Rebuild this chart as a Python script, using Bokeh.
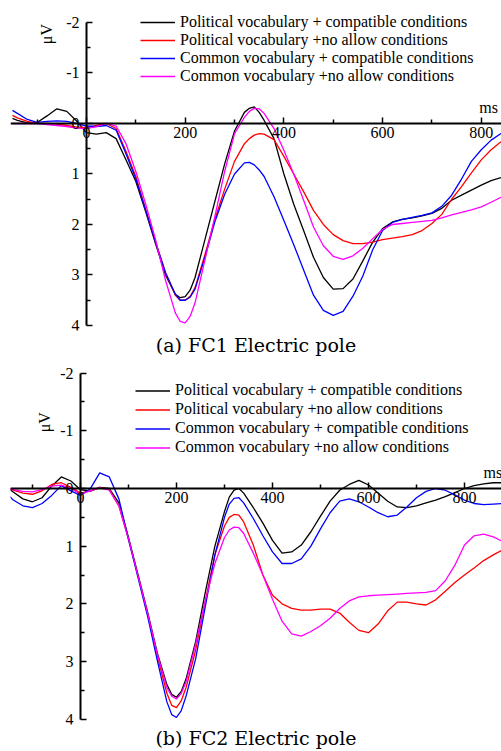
from bokeh.plotting import figure
from bokeh.models import Range1d, FixedTicker, Label, Legend, LegendItem, Title
from bokeh.layouts import column
from bokeh.embed import file_html
from bokeh.resources import INLINE

LABELS = ["Political vocabulary + compatible conditions",
          "Political vocabulary +no allow conditions",
          "Common vocabulary + compatible conditions",
          "Common vocabulary +no allow conditions"]
COLORS = ["#000000", "#ff0000", "#0000ff", "#ff00ff"]

x_major = [0, 200, 400, 600, 800]
x_minor = [-100, 100, 300, 500, 700]
y_major = [-2, -1, 0, 1, 2, 3, 4]
y_minor = [-1.5, -0.5, 0.5, 1.5, 2.5, 3.5]
y_labels = ["-2", "-1", "0", "1", "2", "3", "4"]

# ---------------- Panel (a) FC1 ----------------
time_a = [-150, -140, -120, -100, -80, -60, -40, -20, 0, 20, 40, 60, 80, 100, 120, 140, 160, 180,
          190, 200, 210, 220, 240, 260, 280, 300, 320, 330, 340, 350, 360, 380, 400, 420, 440,
          460, 480, 500, 520, 540, 560, 580, 600, 620, 640, 660, 680, 700, 720, 740, 760, 780,
          800, 820, 840]
a_pol_comp = [-0.10, -0.06, -0.01, -0.02, -0.15, -0.29, -0.24, -0.05, 0.18, 0.21, 0.18, 0.30, 0.72,
              1.15, 1.75, 2.38, 3.00, 3.38, 3.45, 3.43, 3.30, 3.05, 2.30, 1.55, 0.80, 0.15, -0.22,
              -0.30, -0.33, -0.22, -0.06, 0.30, 1.00, 1.60, 2.12, 2.65, 3.05, 3.28, 3.27, 3.08,
              2.72, 2.35, 2.08, 1.95, 1.90, 1.87, 1.83, 1.78, 1.68, 1.52, 1.42, 1.32, 1.22, 1.13,
              1.07]
a_pol_noal = [-0.16, -0.11, -0.04, 0.00, 0.00, 0.01, 0.04, 0.07, 0.08, 0.04, 0.00, 0.10, 0.55,
              1.05, 1.70, 2.35, 2.95, 3.40, 3.50, 3.50, 3.42, 3.25, 2.60, 1.90, 1.30, 0.75, 0.40,
              0.30, 0.23, 0.20, 0.21, 0.32, 0.65, 1.00, 1.35, 1.72, 2.00, 2.20, 2.32, 2.38, 2.38,
              2.35, 2.30, 2.27, 2.24, 2.20, 2.12, 1.98, 1.80, 1.50, 1.25, 0.98, 0.72, 0.52, 0.36]
a_com_comp = [-0.26, -0.20, -0.08, -0.02, -0.04, -0.05, -0.04, 0.00, 0.05, 0.06, 0.04, 0.13, 0.60,
              1.10, 1.72, 2.35, 2.95, 3.38, 3.50, 3.50, 3.44, 3.28, 2.65, 1.95, 1.40, 1.00, 0.78,
              0.77, 0.82, 0.92, 1.05, 1.45, 1.92, 2.40, 2.90, 3.40, 3.70, 3.80, 3.72, 3.42, 3.02,
              2.50, 2.12, 1.96, 1.90, 1.86, 1.82, 1.77, 1.64, 1.42, 1.10, 0.75, 0.52, 0.33, 0.20]
a_com_noal = [0.00, 0.00, 0.00, 0.00, 0.02, 0.04, 0.06, 0.09, 0.10, 0.06, 0.00, 0.05, 0.40,
              0.95, 1.60, 2.30, 3.10, 3.75, 3.92, 3.95, 3.82, 3.55, 2.70, 1.85, 0.95, 0.20, -0.12,
              -0.24, -0.30, -0.29, -0.20, 0.10, 0.53, 1.00, 1.52, 2.05, 2.42, 2.63, 2.69, 2.62,
              2.47, 2.28, 2.10, 2.00, 1.98, 1.96, 1.94, 1.92, 1.87, 1.81, 1.76, 1.71, 1.65, 1.56,
              1.46]

# ---------------- Panel (b) FC2 ----------------
time_b = [-150, -140, -120, -100, -80, -60, -40, -20, 0, 20, 40, 60, 80, 100, 120, 140, 160, 180,
          190, 200, 210, 220, 240, 260, 280, 300, 310, 320, 330, 340, 360, 380, 400, 420, 440,
          460, 480, 500, 520, 540, 560, 580, 600, 620, 640, 660, 680, 700, 720, 740, 760, 780,
          800, 820, 840, 860, 880]
b_pol_comp = [0.00, 0.06, 0.18, 0.23, 0.16, -0.04, -0.20, -0.13, 0.02, 0.05, -0.02, 0.00, 0.25,
              0.85, 1.50, 2.15, 2.85, 3.40, 3.57, 3.62, 3.52, 3.30, 2.65, 1.80, 1.00, 0.40, 0.15,
              0.03, 0.00, 0.08, 0.33, 0.60, 0.90, 1.12, 1.10, 0.98, 0.75, 0.48, 0.22, 0.03, -0.07,
              -0.14, -0.06, 0.08, 0.22, 0.32, 0.33, 0.30, 0.25, 0.20, 0.14, 0.07, 0.00, -0.05,
              -0.08, -0.10, -0.10]
b_pol_noal = [0.00, 0.03, 0.08, 0.10, 0.04, -0.07, -0.10, -0.02, 0.08, 0.04, -0.02, 0.02, 0.30,
              0.88, 1.52, 2.18, 2.90, 3.55, 3.76, 3.80, 3.68, 3.45, 2.80, 1.95, 1.15, 0.65, 0.50,
              0.45, 0.46, 0.58, 0.98, 1.50, 1.85, 2.00, 2.08, 2.11, 2.11, 2.09, 2.09, 2.16, 2.32,
              2.46, 2.50, 2.35, 2.12, 1.97, 1.97, 2.00, 2.02, 1.93, 1.78, 1.63, 1.50, 1.38, 1.25,
              1.15, 1.06]
b_com_comp = [0.12, 0.20, 0.30, 0.33, 0.26, 0.12, -0.05, 0.04, 0.12, 0.01, -0.27, -0.20, 0.18,
              0.88, 1.55, 2.22, 2.98, 3.70, 3.92, 3.97, 3.85, 3.60, 2.95, 2.05, 1.15, 0.50, 0.27,
              0.17, 0.16, 0.25, 0.52, 0.82, 1.10, 1.30, 1.30, 1.22, 1.00, 0.70, 0.42, 0.22, 0.18,
              0.23, 0.32, 0.42, 0.49, 0.46, 0.32, 0.16, 0.05, 0.00, 0.03, 0.11, 0.20, 0.26, 0.28,
              0.27, 0.26]
b_com_noal = [0.00, 0.02, 0.05, 0.06, 0.02, -0.04, -0.06, 0.00, 0.10, 0.04, -0.01, 0.03, 0.30,
              0.87, 1.52, 2.17, 2.87, 3.45, 3.60, 3.65, 3.55, 3.35, 2.70, 1.95, 1.30, 0.85, 0.72,
              0.67, 0.68, 0.78, 1.12, 1.50, 1.92, 2.30, 2.52, 2.56, 2.48, 2.38, 2.25, 2.08, 1.95,
              1.88, 1.86, 1.85, 1.84, 1.83, 1.82, 1.81, 1.80, 1.77, 1.60, 1.33, 0.98, 0.82, 0.79,
              0.84, 0.92]

SERIF = "Liberation Serif"


def make_panel(times, series, title, height, xr, yr, border_top, border_bottom,
               legend_loc, legend_row, ms_pos, uv_pos, title_standoff):
    p = figure(width=501, height=height, output_backend="svg", toolbar_location=None,
               x_range=Range1d(*xr), y_range=Range1d(*yr),
               min_border_left=10, min_border_right=0,
               min_border_top=border_top, min_border_bottom=border_bottom)
    p.outline_line_color = None
    p.xgrid.visible = False
    p.ygrid.visible = False
    p.background_fill_color = "white"
    p.border_fill_color = "white"

    xa = p.xaxis[0]
    xa.fixed_location = 0
    xa.ticker = FixedTicker(ticks=x_major, minor_ticks=x_minor)
    ya = p.yaxis[0]
    ya.fixed_location = 0
    ya.bounds = (-2, 4)
    ya.ticker = FixedTicker(ticks=y_major, minor_ticks=y_minor)
    ya.major_label_overrides = {v: s for v, s in zip(y_major, y_labels)}
    for ax in (xa, ya):
        ax.axis_line_width = 2
        ax.axis_line_color = "black"
        ax.major_tick_in = 6
        ax.major_tick_out = 0
        ax.minor_tick_in = 4
        ax.minor_tick_out = 0
        ax.major_tick_line_width = 1.5
        ax.minor_tick_line_width = 1.5
        ax.major_tick_line_color = "black"
        ax.minor_tick_line_color = "black"
        ax.major_label_text_font = SERIF
        ax.major_label_text_font_size = "16px"
        ax.major_label_text_color = "black"
    xa.major_label_standoff = 4
    ya.major_label_standoff = 7

    items = []
    for vals, lab, col in zip(series, LABELS, COLORS):
        r = p.line(times, vals, line_color=col, line_width=1.3)
        items.append(LegendItem(label=lab, renderers=[r]))

    leg = Legend(items=items, location=legend_loc, border_line_alpha=0,
                 background_fill_alpha=0, padding=0, spacing=0, margin=0,
                 glyph_width=35, glyph_height=legend_row, label_height=legend_row,
                 label_standoff=5, label_text_font=SERIF, label_text_font_size="16px",
                 label_text_color="black")
    p.add_layout(leg)

    p.add_layout(Label(x=ms_pos[0], y=ms_pos[1], text="ms", text_align="center",
                       text_baseline="alphabetic", text_font=SERIF, text_font_size="16px",
                       text_color="black"))
    p.add_layout(Label(x=uv_pos[0], y=uv_pos[1], text="μV", angle=1.5708,
                       text_align="center", text_baseline="middle", text_font=SERIF,
                       text_font_size="16px", text_color="black"))

    t = Title(text=title, align="center", text_font="DejaVu Serif", text_font_size="19px",
              text_font_style="normal", text_color="black", standoff=title_standoff)
    p.add_layout(t, "below")
    return p


pa = make_panel(time_a, [a_pol_comp, a_pol_noal, a_com_comp, a_com_noal],
                "(a) FC1 Electric pole", 365, (-154, 841), (4.099, -2.356), 4, 35,
                (130, 245), 18, (815, -0.32), (-81, -1.77), 3)
pb = make_panel(time_b, [b_pol_comp, b_pol_noal, b_com_comp, b_com_noal],
                "(b) FC2 Electric pole", 386, (-145.8, 877.1), (4.092, -2.098), 2, 27,
                (125, 267.5), 19, (859, -0.28), (-76, -1.15), 1)

layout = column(pa, pb, spacing=0)
open("out.html", "w").write(file_html(layout, INLINE))
